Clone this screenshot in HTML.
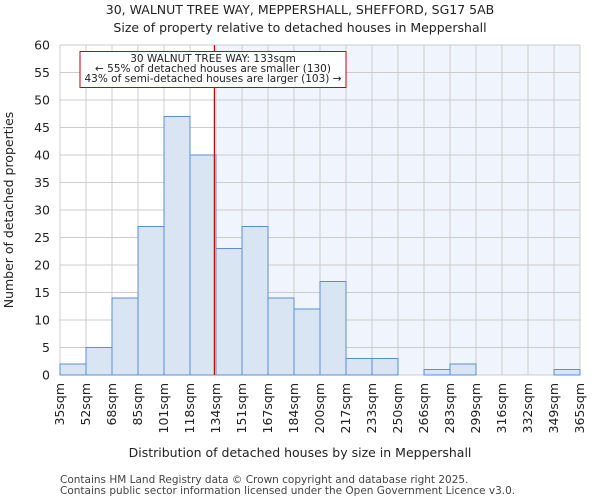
<!DOCTYPE html>
<html><head><meta charset="utf-8"><style>
body{margin:0;background:#fff;font-family:"DejaVu Sans","Liberation Sans",sans-serif}
</style></head><body>
<svg id="c" width="600" height="500" xmlns="http://www.w3.org/2000/svg" font-family="DejaVu Sans, Liberation Sans, sans-serif">
<text x="300" y="14" text-anchor="middle" font-size="12.5" fill="#222">30, WALNUT TREE WAY, MEPPERSHALL, SHEFFORD, SG17 5AB</text>
<text x="300" y="32" text-anchor="middle" font-size="12.5" fill="#222">Size of property relative to detached houses in Meppershall</text>
<g id="plot"></g>
<text x="300" y="457" text-anchor="middle" font-size="12.5" fill="#222">Distribution of detached houses by size in Meppershall</text>
<text transform="translate(13,210) rotate(-90)" text-anchor="middle" font-size="12.5" fill="#222">Number of detached properties</text>
<text x="60" y="483" font-size="10.5" fill="#444">Contains HM Land Registry data © Crown copyright and database right 2025.</text>
<text x="60" y="494" font-size="10.5" fill="#444">Contains public sector information licensed under the Open Government Licence v3.0.</text>
</svg>
<script>
const edges=["35sqm","52sqm","68sqm","85sqm","101sqm","118sqm","134sqm","151sqm","167sqm","184sqm","200sqm","217sqm","233sqm","250sqm","266sqm","283sqm","299sqm","316sqm","332sqm","349sqm","365sqm"];
const counts=[2,5,14,27,47,40,23,27,14,12,17,3,3,0,1,2,0,0,0,1];
const yTicks=[0,5,10,15,20,25,30,35,40,45,50,55,60];
const marker=133;
const edgeVals=[35,52,68,85,101,118,134,151,167,184,200,217,233,250,266,283,299,316,332,349,365];
const L=60,R=580,T=45,B=375,yMax=60;
const ns="http://www.w3.org/2000/svg";
const g=document.getElementById('plot');
const bw=(R-L)/counts.length;
const xi=i=>L+i*bw;
const y=v=>B-(B-T)*v/yMax;
function xv(v){for(let i=0;i<edgeVals.length-1;i++){if(v<=edgeVals[i+1])return xi(i)+bw*(v-edgeVals[i])/(edgeVals[i+1]-edgeVals[i]);}return R;}
function mk(t,a){const e=document.createElementNS(ns,t);for(const k in a)e.setAttribute(k,a[k]);g.appendChild(e);return e;}
const mx=xv(marker);
let sh=mk('rect',{x:mx,y:T,width:R-mx,height:B-T,fill:'#f0f4fc'});


yTicks.forEach(t=>{
 let l=mk('line',{x1:L,x2:R,y1:y(t),y2:y(t),stroke:'#cccccc','stroke-width':1});
 
 
 let tx=mk('text',{x:L-10,y:y(t)+4.5,'text-anchor':'end','font-size':12.5,fill:'#222'});
 tx.textContent=t;
 
 
});
edges.forEach((s,i)=>{
 let l=mk('line',{x1:xi(i),x2:xi(i),y1:T,y2:B,stroke:'#cccccc','stroke-width':1});
 
 
 let tx=mk('text',{transform:`translate(${xi(i)+4},${B+8}) rotate(-90)`,'text-anchor':'end','font-size':12.5,fill:'#222'});
 tx.textContent=s;
 
 
});
counts.forEach((c,i)=>{
 if(c<=0)return;
 let r=mk('rect',{x:xi(i),y:y(c),width:bw,height:B-y(c),fill:'#dae5f4',stroke:'#5a8dd6','stroke-width':1});
 
 
});
let ml=mk('line',{x1:mx,x2:mx,y1:T,y2:B,stroke:'#cc0000','stroke-width':1.2});


let bx=mk('rect',{x:80,y:51.5,width:266,height:36,fill:'#fff',stroke:'#cc0000','stroke-width':1});


["30 WALNUT TREE WAY: 133sqm","← 55% of detached houses are smaller (130)","43% of semi-detached houses are larger (103) →"].forEach((s,i)=>{
 let t=mk('text',{x:213,y:62+i*10,'text-anchor':'middle','font-size':10.5,fill:'#222'});
 t.textContent=s;
 
 
});
</script>
</body></html>
